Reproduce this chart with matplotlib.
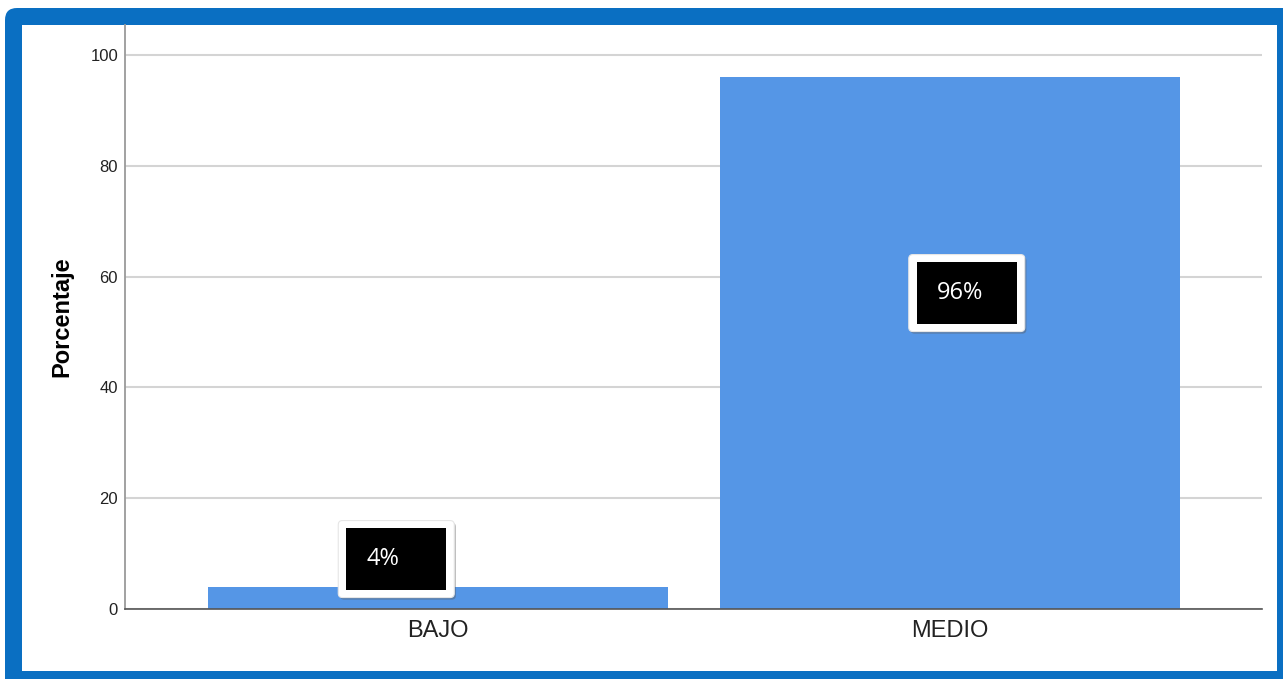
import matplotlib
matplotlib.use("Agg")
import matplotlib.pyplot as plt
from matplotlib.patches import FancyBboxPatch, Rectangle
from matplotlib.offsetbox import DrawingArea, AnnotationBbox
from matplotlib.text import Text
import matplotlib.patheffects as pe

categories = ["BAJO", "MEDIO"]
values = [4, 96]
labels = ["4%", "96%"]
yticks = [0, 20, 40, 60, 80, 100]
ylabel = "Porcentaje"

# label box offsets (points) relative to top of each bar
label_offsets = [(-30, 20), (12, -155.5)]

W, H = 1283, 679
fig = plt.figure(figsize=(W / 100, H / 100), dpi=100)
fig.patch.set_facecolor("white")

blue = "#0A6FC2"
# blue frame
frame = FancyBboxPatch((5, -20), W + 40, H - 8 + 20, boxstyle="round,pad=0,rounding_size=12",
                       transform=None, fc=blue, ec="none", zorder=-3)
fig.add_artist(frame)
inner = Rectangle((22, 8), 1277 - 22, 654 - 8, transform=None, fc="white", ec="none", zorder=-2)
fig.add_artist(inner)

ax = fig.add_axes([125 / W, (H - 609) / H, (1262 - 125) / W, (609 - 25) / H])
ax.set_facecolor("white")

x = list(range(len(categories)))
ax.bar(x, values, width=0.898, color="#5596E6", zorder=2)

ax.set_xlim(-0.611, 1.609)
ax.set_ylim(0, 105.4)
ax.set_yticks(yticks)
ax.set_yticklabels([str(t) for t in yticks], fontsize=12, family="Liberation Sans", color="#222222")
ax.set_xticks(x)
ax.set_xticklabels(categories, fontsize=17, family="Liberation Sans", color="#222222")
ax.tick_params(axis="y", length=0, pad=5)
ax.tick_params(axis="x", length=0, pad=8)
ax.yaxis.grid(True, color="#d4d4d4", linewidth=1.5, zorder=0)
ax.set_axisbelow(True)
for s in ["top", "right"]:
    ax.spines[s].set_visible(False)
ax.spines["left"].set_color("#9a9a9a")
ax.spines["left"].set_linewidth(1.3)
ax.spines["bottom"].set_color("#555555")
ax.spines["bottom"].set_linewidth(1.2)
ax.spines["bottom"].set_zorder(3)
ax.set_ylabel(ylabel, fontsize=17, fontweight="bold", family="Liberation Sans", labelpad=12)

# label boxes
bw, bh = 116 * 0.72, 77 * 0.72
brd = 8 * 0.72
for xi, v, lab, off in zip(x, values, labels, label_offsets):
    da = DrawingArea(bw, bh, 0, 0)
    outer = FancyBboxPatch((0, 0), bw, bh, boxstyle="round,pad=0,rounding_size=3",
                           fc="white", ec="#e6e6e6", lw=0.8)
    outer.set_path_effects([pe.SimplePatchShadow(offset=(1.2, -1.5), shadow_rgbFace="#555555", alpha=0.4),
                            pe.Normal()])
    da.add_artist(outer)
    da.add_artist(Rectangle((brd, brd * 0.95), bw - 2 * brd, bh - 2 * brd * 0.95, fc="black", ec="none"))
    da.add_artist(Text(brd + 20 * 0.72, bh / 2, lab, color="white", fontsize=17,
                       family="Open Sans", va="center", ha="left"))
    ab = AnnotationBbox(da, (xi, v), xybox=off, xycoords="data", boxcoords="offset points",
                        frameon=False, box_alignment=(0.5, 0.5), pad=0, zorder=5)
    ax.add_artist(ab)

fig.savefig("out.png", dpi=100)
